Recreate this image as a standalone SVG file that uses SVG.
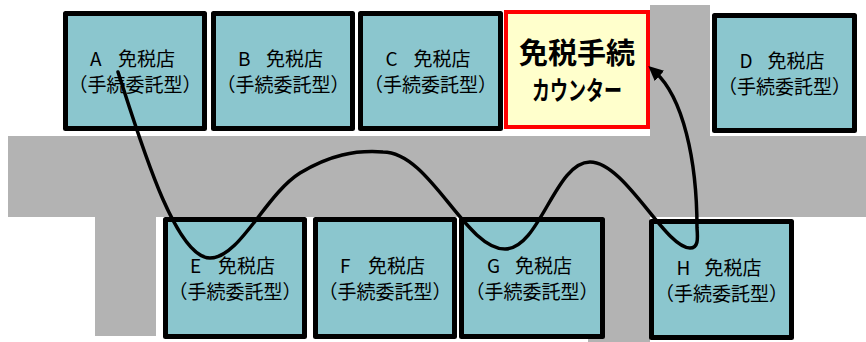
<svg xmlns="http://www.w3.org/2000/svg" width="866" height="342" viewBox="0 0 866 342">
  <style>
    .road { fill: #b3b3b3; }
    .shop { fill: #8bc6ce; stroke: #000; stroke-width: 5; stroke-linejoin: round; }
    .counter { fill: #ffffcc; stroke: #ff0000; stroke-width: 4; }
    .lbl { font-family: "Noto Sans CJK JP", "Noto Sans", sans-serif; font-size: 19px; fill: #000; text-anchor: middle; }
    .lbl1 { font-family: "Noto Sans CJK JP", "Noto Sans", sans-serif; font-size: 19px; fill: #000; }
    .big { font-family: "Noto Sans CJK JP", "Noto Sans", sans-serif; font-weight: bold; fill: #000; text-anchor: middle; }
    .route { fill: none; stroke: #000; stroke-width: 3.5; stroke-linecap: round; }
  </style>
  <defs>
    <marker id="arrow" markerUnits="userSpaceOnUse" markerWidth="16" markerHeight="16" refX="6" refY="7" orient="auto">
      <path d="M0,0 L15,7 L0,14 z" fill="#000"/>
    </marker>
  </defs>
  <rect width="866" height="342" fill="#ffffff"/>
  <g id="roads">
    <rect class="road" x="8" y="136" width="858" height="81"/>
    <rect class="road" x="95" y="217" width="61" height="119"/>
    <rect class="road" x="650" y="5" width="60" height="131"/>
    <rect class="road" x="588" y="217" width="62" height="125"/>
  </g>
  <g id="shopA">
    <rect class="shop" x="65.5" y="13.5" width="139" height="115"/>
    <text class="lbl1" y="66"><tspan x="90">A</tspan><tspan x="118">免税店</tspan></text>
    <text class="lbl" x="135" y="92">（手続委託型）</text>
  </g>
  <g id="shopB">
    <rect class="shop" x="213.5" y="13.5" width="139" height="115"/>
    <text class="lbl1" y="66"><tspan x="238">B</tspan><tspan x="266">免税店</tspan></text>
    <text class="lbl" x="283" y="92">（手続委託型）</text>
  </g>
  <g id="shopC">
    <rect class="shop" x="360.5" y="13.5" width="140" height="115"/>
    <text class="lbl1" y="66"><tspan x="385.5">C</tspan><tspan x="413.5">免税店</tspan></text>
    <text class="lbl" x="430.5" y="92">（手続委託型）</text>
  </g>
  <g id="counter">
    <rect class="counter" x="506" y="12" width="142" height="115"/>
    <text class="big" x="577" y="64" font-size="29">免税手続</text>
    <text class="big" x="577" y="100" font-size="26" textLength="90" lengthAdjust="spacingAndGlyphs">カウンター</text>
  </g>
  <g id="shopD">
    <rect class="shop" x="714.5" y="15.5" width="140" height="115"/>
    <text class="lbl1" y="68"><tspan x="739.5">D</tspan><tspan x="767.5">免税店</tspan></text>
    <text class="lbl" x="784.5" y="94">（手続委託型）</text>
  </g>
  <g id="shopE">
    <rect class="shop" x="165.5" y="219.5" width="139" height="117"/>
    <text class="lbl1" y="273"><tspan x="190">E</tspan><tspan x="218">免税店</tspan></text>
    <text class="lbl" x="235" y="299">（手続委託型）</text>
  </g>
  <g id="shopF">
    <rect class="shop" x="315.5" y="219.5" width="139" height="117"/>
    <text class="lbl1" y="273"><tspan x="340">F</tspan><tspan x="368">免税店</tspan></text>
    <text class="lbl" x="385" y="299">（手続委託型）</text>
  </g>
  <g id="shopG">
    <rect class="shop" x="461.5" y="219.5" width="141" height="117"/>
    <text class="lbl1" y="273"><tspan x="487">G</tspan><tspan x="515">免税店</tspan></text>
    <text class="lbl" x="532" y="299">（手続委託型）</text>
  </g>
  <g id="shopH">
    <rect class="shop" x="651.5" y="221.5" width="140" height="116"/>
    <text class="lbl1" y="275"><tspan x="676.5">H</tspan><tspan x="704.5">免税店</tspan></text>
    <text class="lbl" x="721.5" y="301">（手続委託型）</text>
  </g>
  <g id="connectors">
    <path class="route" marker-end="url(#arrow)" d="M118,72 C140,140 175,258 210,258 C240,258 265,195 300,173 C330,155 355,150 383,152 C430,152 465,249 505,249 C540,249 555,162 590,162 C625,162 665,248 690,248 C698,248 698,240 697,228 C697,160 683,97 655,72"/>
  </g>
</svg>
